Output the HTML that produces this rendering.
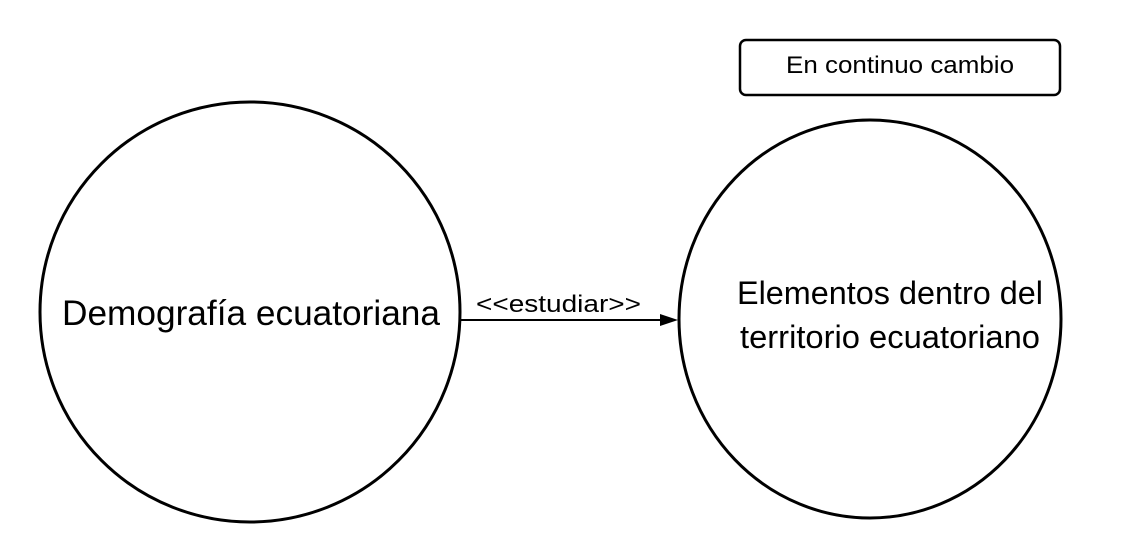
<!DOCTYPE html>
<html><head><meta charset="utf-8"><style>
html,body{margin:0;padding:0;background:#fff;}
svg{display:block;}
text{font-family:"Liberation Sans",Arial,sans-serif;fill:#000;}
</style></head><body>
<svg width="1140" height="560" viewBox="0 0 1140 560">
<rect x="740" y="40" width="320" height="55" rx="6" fill="#fff" stroke="#000" stroke-width="2.5"/>
<text x="786" y="73" font-size="24" textLength="228" lengthAdjust="spacingAndGlyphs">En continuo cambio</text>
<circle cx="250" cy="312" r="210" fill="#fff" stroke="#000" stroke-width="3"/>
<text x="62" y="325" font-size="35" textLength="378" lengthAdjust="spacingAndGlyphs">Demografía ecuatoriana</text>
<ellipse cx="870" cy="319" rx="191" ry="199" fill="#fff" stroke="#000" stroke-width="3"/>
<text x="737" y="304" font-size="32" textLength="306" lengthAdjust="spacingAndGlyphs">Elementos dentro del</text>
<text x="740" y="348" font-size="32" textLength="300" lengthAdjust="spacingAndGlyphs">territorio ecuatoriano</text>
<line x1="460" y1="320" x2="662" y2="320" stroke="#000" stroke-width="2"/>
<polygon points="678,320 660,314 660,326" fill="#000"/>
<text x="476" y="312" font-size="24" textLength="165" lengthAdjust="spacingAndGlyphs">&lt;&lt;estudiar&gt;&gt;</text>
</svg>
</body></html>
